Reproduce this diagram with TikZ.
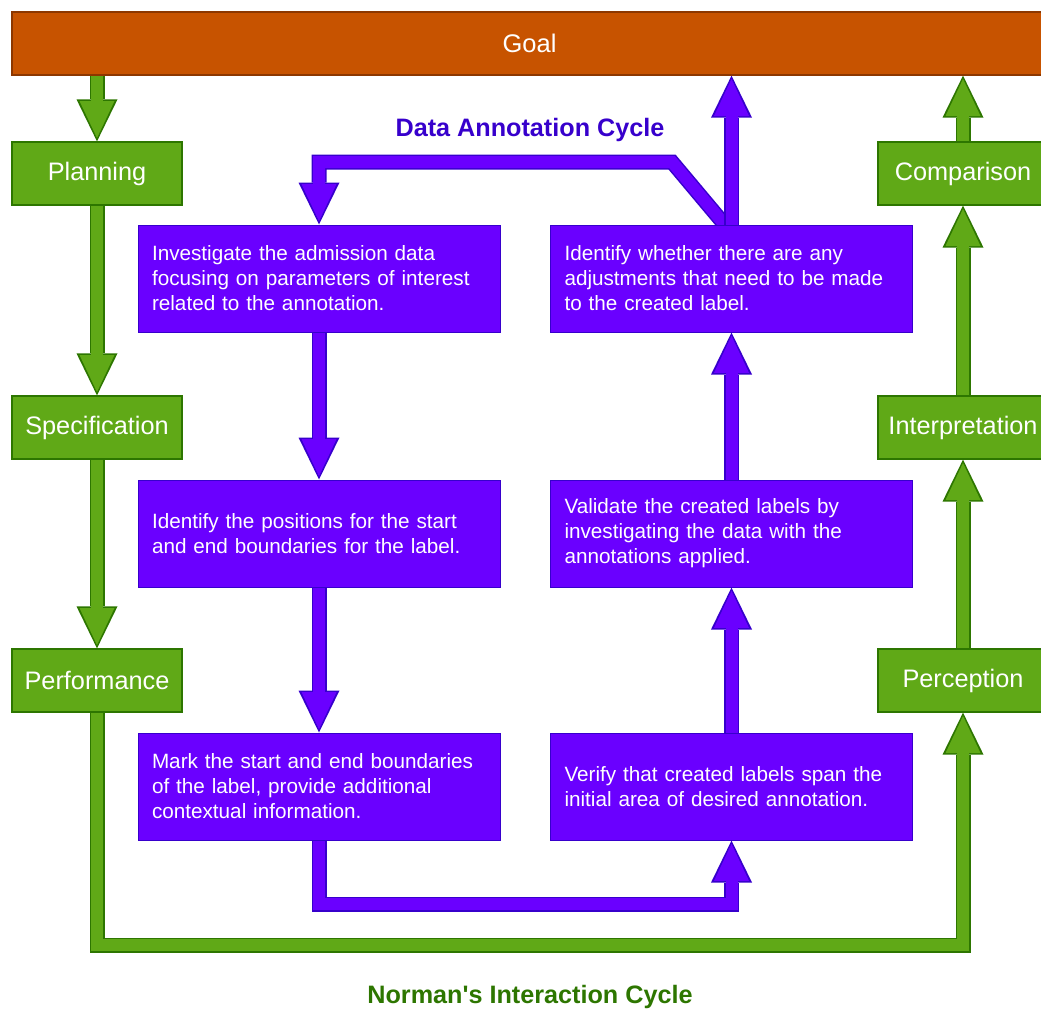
\documentclass[tikz,border=0pt]{standalone}
\usepackage{fontspec}
\setmainfont{Liberation Sans}[Ligatures=TeXOff]
\usetikzlibrary{arrows.meta,backgrounds}
\definecolor{goalfill}{RGB}{199,83,0}
\definecolor{goalline}{RGB}{140,55,0}
\definecolor{greenfill}{HTML}{60A917}
\definecolor{greenline}{HTML}{2D7600}
\definecolor{purplefill}{HTML}{6A00FF}
\definecolor{purpleline}{HTML}{3700CC}

\begin{document}
\begin{tikzpicture}[x=1pt, y=-1pt,
  goalbar/.style={draw=goalline, fill=goalfill, line width=1.2pt, minimum width=1035pt, minimum height=63pt, text=white, font=\fontsize{25.5}{30}\selectfont},
  greenbox/.style={draw=greenline, fill=greenfill, line width=1.2pt, minimum width=170pt, minimum height=63pt, inner sep=0pt, text=white, font=\fontsize{25.3}{30}\selectfont},
  purplebox/.style={draw=purpleline, fill=purplefill, line width=1pt, text width=334pt, inner xsep=14pt, inner ysep=0pt, minimum height=107pt, align=left, text=white, font=\fontsize{20.7}{25}\selectfont},
  cycletitle/.style={font=\bfseries\fontsize{25.2}{30}\selectfont},
  fatarrow/.style 2 args={preaction={draw=#1, line width=15pt, line join=miter, shorten >=0pt, -{Triangle[width=41pt,length=42pt,line width=0pt]}}, draw=#2, line width=12pt, line join=miter, shorten >=3.4pt, -{Triangle[width=35pt,length=37pt,line width=0pt]}},
  greenarrow/.style={fatarrow={greenline}{greenfill}},
  purplearrow/.style={fatarrow={purpleline}{purplefill}}]
\useasboundingbox (0, 0) rectangle (1041, 1012);
\clip (0, 0) rectangle (1041, 1012);

\node at (529.5, 43.5) [goalbar] (goal) {Goal};

\node at (97, 173.5) [greenbox] (planning) {Planning};
\node at (97, 427.5) [greenbox] (specification) {Specification};
\node at (97, 680.5) [greenbox] (performance) {Performance};
\node at (963, 173.5) [greenbox] (comparison) {Comparison};
\node at (963, 427.5) [greenbox] (interpretation) {Interpretation};
\node at (963, 680.5) [greenbox] (perception) {Perception};

\node at (319, 278.5) [purplebox] (investigate) {Investigate the admission data\\focusing on parameters of interest\\related to the annotation.};
\node at (319, 533.5) [purplebox] (positions) {Identify the positions for the start\\and end boundaries for the label.};
\node at (319, 786.5) [purplebox] (mark) {Mark the start and end boundaries\\of the label, provide additional\\contextual information.};
\node at (731.5, 278.5) [purplebox] (adjust) {Identify whether there are any\\adjustments that need to be made\\to the created label.};
\node at (731.5, 533.5) [purplebox] (validate) {Validate the created labels by\\investigating the data with the\\annotations applied.};
\node at (731.5, 786.5) [purplebox] (verify) {Verify that created labels span the\\initial area of desired annotation.};

\node at (530, 130) [cycletitle, text=purpleline] (datatitle) {Data Annotation Cycle};
\node at (530, 997) [cycletitle, text=greenline] (normantitle) {Norman's Interaction Cycle};

\coordinate (nbottom) at (530, 945);
\coordinate (dbottom) at (530, 904);
\coordinate (dbend) at (672, 162);

\begin{scope}[on background layer]
\draw [greenarrow] (goal.south -| planning.north) to (planning.north);
\draw [greenarrow] (planning.south) to (specification.north);
\draw [greenarrow] (specification.south) to (performance.north);
\draw [greenarrow] (performance.south) |- (nbottom) -| (perception.south);
\draw [greenarrow] (perception.north) to (interpretation.south);
\draw [greenarrow] (interpretation.north) to (comparison.south);
\draw [greenarrow] (comparison.north) to (goal.south -| comparison.north);

\draw [purplearrow] ([xshift=-7pt]adjust.north) -- (dbend) -| (investigate.north);
\draw [purplearrow] (investigate.south) to (positions.north);
\draw [purplearrow] (positions.south) to (mark.north);
\draw [purplearrow] (mark.south) |- (dbottom) -| (verify.south);
\draw [purplearrow] (verify.north) to (validate.south);
\draw [purplearrow] (validate.north) to (adjust.south);
\draw [purplearrow] (adjust.north) to (goal.south -| adjust.north);
\end{scope}
\end{tikzpicture}
\end{document}
